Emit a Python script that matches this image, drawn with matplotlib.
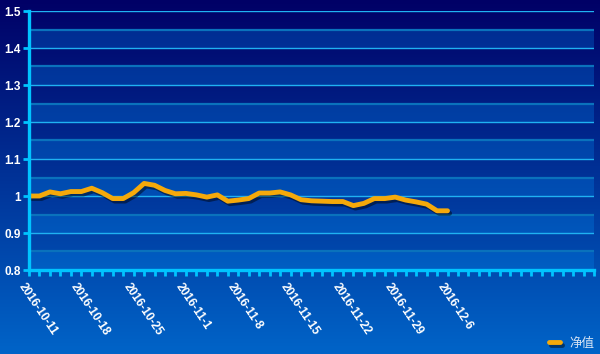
import numpy as np
import matplotlib
matplotlib.use("Agg")
import matplotlib.pyplot as plt
import matplotlib.patheffects as pe
from matplotlib.ticker import FixedLocator, FuncFormatter

dates = ["2016-10-11", "2016-10-12", "2016-10-13", "2016-10-14", "2016-10-17",
         "2016-10-18", "2016-10-19", "2016-10-20", "2016-10-21", "2016-10-24",
         "2016-10-25", "2016-10-26", "2016-10-27", "2016-10-28", "2016-10-31",
         "2016-11-1", "2016-11-2", "2016-11-3", "2016-11-4", "2016-11-7",
         "2016-11-8", "2016-11-9", "2016-11-10", "2016-11-11", "2016-11-14",
         "2016-11-15", "2016-11-16", "2016-11-17", "2016-11-18", "2016-11-21",
         "2016-11-22", "2016-11-23", "2016-11-24", "2016-11-25", "2016-11-28",
         "2016-11-29", "2016-11-30", "2016-12-1", "2016-12-2", "2016-12-5",
         "2016-12-6"]
nav = [1.000, 1.000, 1.011, 1.006, 1.012, 1.012, 1.021, 1.009, 0.993, 0.993,
       1.009, 1.034, 1.029, 1.015, 1.006, 1.007, 1.003, 0.997, 1.003, 0.986,
       0.989, 0.993, 1.008, 1.008, 1.011, 1.003, 0.990, 0.987, 0.986, 0.985,
       0.985, 0.974, 0.980, 0.993, 0.993, 0.997, 0.989, 0.984, 0.978, 0.960,
       0.960]
series_name = "净值"
n_slots = 55  # category slots on the x axis
label_step = 5
y_ticks = [0.8, 0.9, 1.0, 1.1, 1.2, 1.3, 1.4, 1.5]

W, H = 600, 354
fig = plt.figure(figsize=(W / 100, H / 100), dpi=100)

# background gradient
bg = fig.add_axes([0, 0, 1, 1], zorder=-10)
top = np.array([0x00, 0x00, 0x66]) / 255
bot = np.array([0x00, 0x64, 0xc8]) / 255
t = np.linspace(0, 1, 256)[:, None]
grad = top[None, :] * (1 - t) + bot[None, :] * t
bg.imshow(grad[:, None, :], aspect="auto", extent=[0, 1, 0, 1])
bg.set_axis_off()

left, right, ytop, ybot = 29, 594, 11, 270
ax = fig.add_axes([left / W, 1 - ybot / H, (right - left) / W, (ybot - ytop) / H])
ax.patch.set_alpha(0)

x = np.arange(len(nav))
ax.set_xlim(0, n_slots - 1)
ax.set_ylim(y_ticks[0], y_ticks[-1])

# alternating bands and grid lines
for k in range(len(y_ticks) - 1):
    lo = y_ticks[k]
    ax.axhspan(lo, lo + 0.05, color=(0.0, 0.55, 0.95), alpha=0.28,
               lw=0, zorder=0)
    ax.axhline(lo + 0.05, color="#0a72bc", lw=1.6, zorder=1)
for v in y_ticks[1:]:
    ax.axhline(v, color="#1fb2f2", lw=1.0, zorder=1)

ax.plot(x, nav, color="#f5a90a", lw=3.5, solid_capstyle="round",
        solid_joinstyle="round", zorder=5, label=series_name,
        path_effects=[pe.SimpleLineShadow(offset=(1.5, -1.8), shadow_color="black",
                                          alpha=0.45),
                      pe.Normal()])

for s in ["top", "right"]:
    ax.spines[s].set_visible(False)
for s in ["left", "bottom"]:
    ax.spines[s].set_color("#00c4ff")
    ax.spines[s].set_linewidth(2.4)
    ax.spines[s].set_zorder(6)

ax.yaxis.set_major_locator(FixedLocator(y_ticks))
ax.yaxis.set_major_formatter(FuncFormatter(lambda v, p: f"{v:g}"))
ax.tick_params(axis="y", length=4, width=2, color="#00c4ff", pad=2,
               labelcolor="white", labelsize=8.5)
ax.xaxis.set_major_locator(FixedLocator(np.arange(n_slots)))
ax.set_xticklabels([""] * n_slots)
ax.tick_params(axis="x", length=4, width=2.0, color="#00c4ff", direction="out")
for lab in ax.get_yticklabels():
    lab.set_fontweight("bold")
    lab.set_family("Liberation Sans")

for i in range(0, len(dates), label_step):
    ax.annotate(dates[i], xy=(i, 0), xycoords=("data", "axes fraction"),
                xytext=(-2, -8), textcoords="offset points",
                rotation=-56, rotation_mode="anchor", ha="left", va="top",
                color="white", fontsize=8.5, fontweight="bold",
                family="Liberation Sans")

leg = fig.legend(loc="lower right", bbox_to_anchor=(1.01, -0.02), frameon=False,
                 handlelength=0.9, handletextpad=0.8,
                 prop={"family": ["Noto Sans CJK SC", "DejaVu Sans"], "size": 9})
for txt in leg.get_texts():
    txt.set_color("#d8e4f4")

fig.savefig("out.png", dpi=100)
